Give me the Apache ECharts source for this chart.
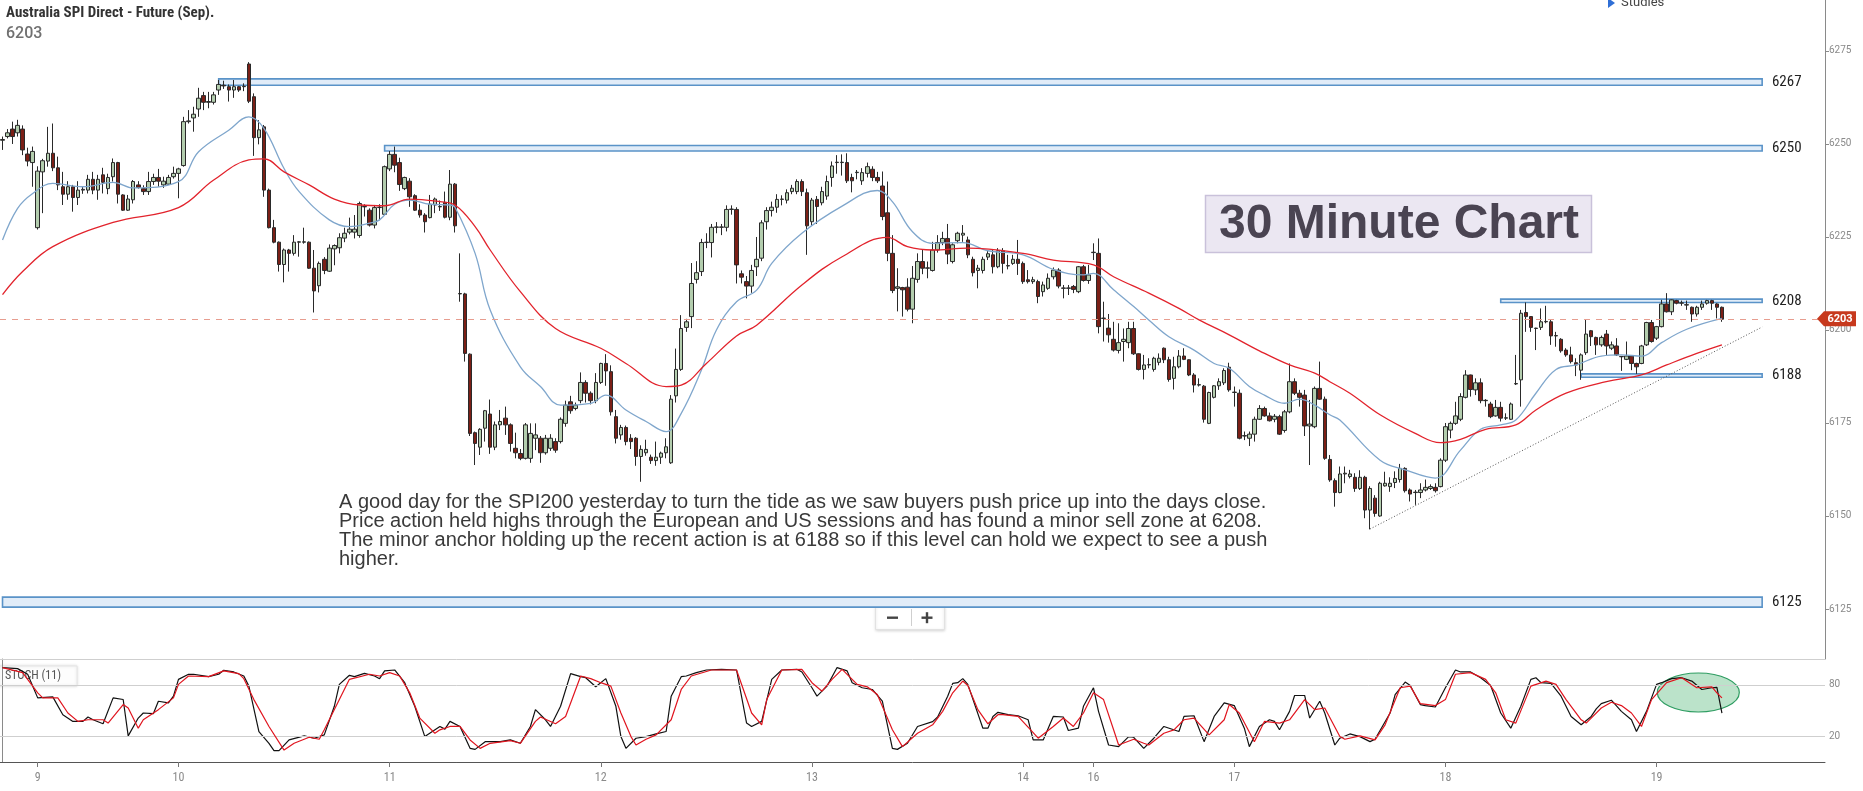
<!DOCTYPE html>
<html>
<head>
<meta charset="utf-8">
<script src="https://cdn.jsdelivr.net/npm/echarts@6/dist/echarts.min.js"></script>
<style>
  html, body { margin: 0; padding: 0; background: #fff; }
  #main { width: 1863px; height: 791px; }
</style>
</head>
<body>
<div id="main"></div>
<script>
// 30 minute candles, [open, close, low, high]
var candles = [
  [6251,6251.2,6248.4,6252],[6252,6253,6251.5,6254],[6254,6252,6250,6256],[6253,6255,6252,6256.5],
  [6254,6248.4,6247,6255],[6247.3,6245.4,6244,6249],[6245,6248,6238.5,6249.3],[6227.5,6242.7,6227,6244],
  [6242.5,6245.5,6231.4,6246],[6245.4,6247.5,6243.9,6254.6],[6247.5,6243.6,6242.7,6255.5],[6243.6,6239,6237.6,6246.6],
  [6238.5,6236.5,6233.6,6242.5],[6236.5,6238.5,6235,6240],[6238.5,6235.6,6231.8,6239],[6235.6,6237.6,6233.6,6240],
  [6237.6,6237.8,6236.6,6238.6],[6237.6,6240.5,6236.7,6241.7],[6240.5,6237.6,6236.5,6242.5],[6237.6,6240.5,6235,6241.7],
  [6241.7,6239.7,6236.7,6243.6],[6238,6241,6236.5,6242],[6241.2,6245,6239.9,6246.1],[6245,6236.5,6234,6245.2],
  [6236.3,6232.2,6232,6236.5],[6232.2,6235.2,6232,6236.3],[6235,6239.9,6234,6240.3],[6239,6238.3,6238,6240],
  [6238,6237.2,6236.3,6238.9],[6237.2,6239.9,6236.3,6242.5],[6239.9,6241,6239,6242],[6241,6240,6238.5,6243.3],
  [6239,6240,6238.2,6241.2],[6239.2,6241,6239,6241.7],[6241.2,6242.1,6240.7,6243.9],[6242.1,6243.3,6235.4,6243.6],
  [6244.2,6256,6243.9,6257.3],[6256,6256.2,6255.5,6259.1],[6257,6258,6253.3,6260],[6259.4,6262.3,6257.3,6265.1],
  [6263,6261.2,6259.1,6264],[6261.2,6261.4,6259.6,6264],[6261.2,6263.2,6260.6,6264],[6264.5,6266,6263.2,6267.2],
  [6265.8,6265.6,6264.8,6267],[6265.4,6264.5,6261.4,6266],[6264.5,6265.4,6262.4,6267.2],[6265.4,6264.5,6264,6265.6],
  [6265.4,6265.5,6264.2,6266.3],[6271.5,6261.5,6261,6272],[6262.7,6251.7,6246.8,6263.6],[6251.7,6253.8,6249.9,6256.4],
  [6254.6,6237.6,6235.8,6255.1],[6237.6,6227.5,6227.3,6238],[6227.5,6223.6,6223.3,6229.6],[6223.6,6217.6,6215.7,6223.8],
  [6217.6,6221.5,6212.8,6221.9],[6221.5,6220.6,6215.7,6221.8],[6220.6,6223.6,6220,6225.5],[6223.6,6223.7,6219.7,6223.9],
  [6223.6,6223.7,6223.2,6227.5],[6223.6,6216.6,6216.4,6223.8],[6216.6,6210.5,6204.7,6221.5],[6211.9,6217.9,6210.1,6218.4],
  [6219,6216,6215,6219.6],[6215.8,6222,6215.6,6223],[6221.8,6222.7,6217.4,6223],[6222.1,6224.8,6220.6,6226],
  [6224.7,6226,6223.6,6227.5],[6226.3,6227.1,6225.7,6230.2],[6226.3,6227.1,6224.6,6230.9],[6225.4,6234,6224.8,6234.5],
  [6233.1,6233.2,6230.5,6233.8],[6232.2,6228.2,6227.8,6232.7],[6228.2,6232.9,6227.3,6233.6],[6232.9,6233,6229.5,6233.8],
  [6231.1,6243.9,6230.9,6244.2],[6243.3,6247.2,6242.7,6248.1],[6247.2,6244.3,6242.4,6249.3],[6245,6239.1,6237.4,6246.3],
  [6238,6241,6237.6,6241.2],[6240,6235.8,6233.1,6240.8],[6236.1,6232.2,6232,6236.5],[6232.2,6230.9,6230.2,6233.8],
  [6230.9,6229.1,6226.2,6231.4],[6230.2,6233.8,6230,6236.3],[6233.6,6235.2,6231.4,6235.6],[6233.1,6233.2,6232,6234.8],
  [6234.3,6230.3,6230,6237.2],[6230.3,6239.2,6229.5,6243],[6239.2,6228,6226.2,6239.5],[6209.7,6209.8,6207.6,6220.6],
  [6209.7,6193.7,6191.5,6210],[6193.5,6172.2,6171.5,6193.7],[6172.4,6169.5,6163.7,6172.7],[6168.5,6173.3,6166.4,6173.6],
  [6173.6,6178.3,6170,6178.5],[6177.4,6168.5,6166.7,6181.3],[6168.5,6174.5,6167.7,6175.4],[6174.5,6175.4,6173.1,6178.5],
  [6176.3,6174.5,6171.8,6179.4],[6174.5,6169.5,6167.3,6174.9],[6168.2,6167,6165.5,6172.4],[6166.8,6165.5,6165,6168],
  [6165.5,6174.5,6165.2,6175],[6165.5,6172.2,6164.3,6174.9],[6170.9,6171.8,6167.7,6174.9],[6170.9,6167,6164.3,6171.5],
  [6167,6170.9,6166.5,6171.8],[6168.2,6170.9,6167.5,6172],[6170,6167.7,6167,6170.9],[6170,6176,6169.5,6176.5],
  [6174.9,6179.8,6174,6181],[6180.7,6178.3,6177.5,6182.3],[6178.9,6179.8,6178.4,6180.5],[6181,6185.9,6180.3,6188.6],
  [6185.9,6183,6180.5,6186.5],[6183,6181,6180,6183.5],[6181,6185.9,6180.3,6188.4],[6185.9,6191,6185.5,6191.2],
  [6191,6189,6185,6193.5],[6188.8,6178,6177,6190.5],[6176.7,6170.9,6169.5,6178.5],[6171.8,6173.8,6170.5,6174.5],
  [6173.8,6170,6169,6174.3],[6170.9,6170,6168,6172],[6170.9,6166,6163.5,6171.2],[6166,6167.9,6159.2,6169],
  [6167,6167.9,6166.2,6170.5],[6165.8,6164.9,6164,6166.5],[6164.9,6165.8,6163.5,6170],[6165.8,6166.9,6164,6167.3],
  [6167,6168.6,6165.5,6170.9],[6164.3,6181.4,6164,6182.5],[6182.3,6189.4,6180.5,6195],[6189.4,6200.4,6189,6204],
  [6200.7,6202.2,6199.5,6203],[6203.6,6212.5,6200.5,6218],[6213.6,6215.4,6212.5,6218.5],[6215.7,6223.5,6214.5,6224.5],
  [6223.5,6223.6,6222,6226],[6223.5,6227.6,6219.5,6228.5],[6227.6,6227.7,6226,6229],[6227.6,6227.7,6225.5,6228.5],
  [6227.6,6232.4,6226.5,6233.5],[6232.4,6232.5,6231,6233.5],[6232.4,6217.5,6212.5,6233],[6215.1,6214.2,6212.5,6216],
  [6213,6211.8,6208.5,6214.5],[6211.8,6216,6210,6217.5],[6217,6219,6214.5,6225],[6219.3,6228.8,6218.5,6229.5],
  [6229.1,6232.1,6227,6233],[6232.1,6233,6230.5,6234.5],[6233,6235.1,6231.5,6236.5],[6235.1,6235.2,6233.5,6236.2],
  [6234.9,6236.9,6234,6237.8],[6237.2,6238.1,6236.5,6239],[6237.2,6239.9,6236.5,6240.5],[6239.9,6237.2,6236,6240.5],
  [6236.9,6228,6220.2,6238],[6229.1,6234.9,6228,6235.5],[6235.1,6233.2,6228.5,6236],[6234.2,6237.2,6233.5,6238.5],
  [6236,6239.9,6235,6241.5],[6241,6244.1,6238.5,6245.3],[6245,6245.1,6242,6247],[6245,6245.1,6241.5,6247.2],
  [6245,6240.1,6239.5,6247.5],[6241,6240.1,6237,6242],[6242.3,6242.4,6240.5,6243],[6240.1,6242.3,6239,6243.5],
  [6242.1,6243.9,6241,6245],[6243.2,6241,6240,6244],[6241,6240.1,6239.5,6242.5],[6238.7,6230.5,6229.5,6242.6],
  [6231.5,6220.6,6218.5,6239.9],[6220.6,6210.6,6209.9,6225.5],[6211.2,6211.6,6205,6216.6],[6211.4,6210.8,6203.6,6211.6],
  [6211.5,6205.6,6205,6213.9],[6205.6,6213.9,6201.8,6217.2],[6213.6,6218.4,6212.7,6220.6],[6218.4,6216.6,6215,6221.5],
  [6216.6,6216.7,6213.9,6218.4],[6216,6221.5,6215.7,6223.7],[6221.5,6223.5,6220.8,6225.5],[6223.5,6224.6,6222.8,6226.4],
  [6224.6,6220.4,6217.7,6228.5],[6218.4,6222.9,6217.9,6223.3],[6224,6226,6223.3,6226.4],[6225.5,6226,6223.7,6228.2],
  [6224.2,6220.2,6219.3,6225.1],[6219,6215.4,6214.4,6219.7],[6216,6216.6,6211.2,6217.5],[6216,6219,6215.2,6219.7],
  [6219.6,6220.5,6218.8,6221.5],[6220.2,6217,6215.2,6221.5],[6217,6221.3,6216.6,6222],[6221.3,6217.9,6215.2,6222],
  [6217.2,6217.3,6216.3,6220.2],[6217.9,6219,6217.5,6220.2],[6219,6217.9,6214.8,6224.2],[6217.9,6213,6212.4,6218.4],
  [6213.5,6213,6212.5,6216.1],[6213,6213.5,6212.4,6214.3],[6213,6209,6207.2,6213.5],[6210.3,6212.1,6209,6213],
  [6211.2,6213.9,6210.8,6215.2],[6214.3,6216.1,6213.6,6216.8],[6216.1,6211.8,6211.2,6216.6],[6211.2,6211.3,6208.5,6212.1],
  [6211.2,6211.3,6209.4,6212.1],[6211.7,6210.9,6209.9,6212.1],[6210.3,6217,6209.9,6217.2],[6217,6213.3,6213,6217.5],
  [6213.3,6214.8,6212.4,6217.5],[6220.8,6220.9,6218.8,6223.3],[6220.6,6200.9,6199.1,6224.6],[6203.1,6203.2,6196.9,6207.6],
  [6200.5,6198.7,6196.6,6204.3],[6197.5,6194.6,6194.2,6202.2],[6194.5,6196.6,6193.7,6201.8],[6196.9,6197.5,6191.5,6200.4],
  [6196.6,6200.4,6195.1,6202.2],[6200.4,6193.6,6193.3,6202.2],[6193.6,6189.4,6189.1,6193.7],[6189.4,6190.6,6186.7,6193.3],
  [6190.6,6190.7,6189.7,6192.4],[6189.4,6192.4,6188.8,6192.8],[6191.3,6192.4,6190.5,6193.7],[6195.1,6192,6191.1,6195.3],
  [6192,6186.7,6186.1,6192.8],[6187,6190.1,6184,6192.8],[6190.1,6193,6189.7,6194.6],[6193,6192.1,6191.9,6195.1],
  [6192,6187.9,6187.6,6192.1],[6187.9,6185.2,6183.2,6188.4],[6185.2,6185.3,6184.8,6187],[6184.9,6176,6175.1,6185.2],
  [6174.9,6183.2,6174.7,6183.4],[6181.9,6185,6181.6,6185.2],[6185,6186.1,6183.9,6187],[6185.8,6189.1,6185.2,6189.7],
  [6190,6183.9,6183.4,6191.2],[6183.2,6183.3,6179.4,6184.8],[6183,6170.9,6170.6,6184],[6171.5,6171.6,6170.4,6172.7],
  [6170.9,6172,6168.8,6172.7],[6172,6176,6170,6176.7],[6176,6178.9,6175.8,6179.8],[6178.9,6176.9,6176.7,6179.4],
  [6176.9,6175.6,6175.4,6177.8],[6176,6176.8,6175.2,6177.4],[6176.7,6172,6171.8,6177.2],[6173,6178,6172.4,6178.5],
  [6178,6186.1,6177.6,6191],[6186.1,6183,6182.5,6187],[6183,6181.9,6179.4,6183.9],[6182.5,6174.2,6171.5,6183.9],
  [6174.2,6174.7,6163.7,6181.2],[6174,6184.3,6173.6,6184.8],[6184.3,6181.4,6181.2,6191.5],[6181.4,6165.5,6165.1,6182.1],
  [6165.2,6159.7,6159.2,6166.4],[6159.5,6156.3,6152.5,6160.1],[6156.3,6161.3,6156.1,6163.3],[6161.3,6161.5,6158.8,6163.3],
  [6160.6,6161.3,6160.1,6162.4],[6160.4,6157.4,6156.5,6161.5],[6157.4,6160.4,6157,6162.3],[6160.4,6151.6,6149.4,6160.8],
  [6151.6,6157.4,6146.4,6158],[6154.8,6150.7,6149.8,6155.6],[6150,6158.8,6149.8,6159.2],[6158.1,6158.8,6157.9,6161.9],
  [6157.9,6158.8,6156.5,6160.4],[6159,6160.1,6157.5,6162],[6159.8,6162.8,6159,6164],[6162.8,6156.8,6156.3,6163.1],
  [6157,6155.9,6153.9,6157.4],[6156.3,6156.4,6153,6157],[6156.3,6157,6154.8,6158.8],[6157,6157.7,6156.6,6159.8],
  [6157.4,6157.9,6157,6158.5],[6157.7,6156.8,6156.3,6158.8],[6157.9,6165,6157.7,6165.5],[6165,6174,6164.5,6175],
  [6173.1,6174.9,6170.9,6175.4],[6174.9,6176.9,6174.5,6180.7],[6176,6182.1,6175.5,6183],[6181.9,6187.9,6181.6,6189.2],
  [6187.9,6184,6182.1,6188],[6183.9,6185.8,6182.5,6187],[6185.8,6181,6180.3,6187],[6181,6181.1,6179.4,6181.4],
  [6180.1,6176.7,6176.3,6180.7],[6176.9,6179.2,6176.7,6181.2],[6179.2,6176.3,6175.4,6180.7],[6176.3,6176.4,6175.8,6177.6],
  [6176,6180.1,6175.8,6180.5],[6185.5,6185.6,6185.2,6193.3],[6186.6,6204.5,6179.4,6205.4],[6204.7,6203.6,6199.5,6207.4],
  [6203.6,6200.7,6199.5,6203.7],[6200.4,6200.5,6194.6,6200.6],[6200.7,6202.2,6200,6205.8],[6202.2,6202.3,6201.8,6206.5],
  [6202.2,6198.4,6196,6202.7],[6198.4,6198.5,6195.5,6199.5],[6197.5,6194.4,6193.9,6197.8],[6194.6,6193.3,6192.8,6195.1],
  [6193.3,6191.5,6191,6195.5],[6191.2,6190.6,6187.6,6192.4],[6189.2,6193.3,6186.6,6193.7],[6193.9,6198.9,6193.3,6202.9],
  [6199.8,6198.2,6195.7,6200],[6198,6196,6193.3,6198.2],[6196,6198,6195.5,6198.5],[6198.9,6195.7,6193.3,6200],
  [6195.1,6196,6194.6,6196.9],[6195.7,6193.3,6193,6197.8],[6192.8,6192.9,6189,6193],[6192.1,6193,6191.9,6196.9],
  [6193,6191,6189.2,6193.1],[6191,6190.1,6188.2,6191.2],[6191,6195.7,6190.8,6196],[6196,6202,6195.7,6202.2],
  [6202,6196.9,6196.6,6202.7],[6197.8,6200.9,6197.3,6201.1],[6200.9,6207,6200.7,6208.1],[6207,6204.9,6204.7,6209.9],
  [6204.9,6208.1,6204,6208.2],[6207.9,6207.2,6206.9,6208.1],[6207.2,6207.3,6206.5,6207.9],[6206.7,6206.8,6205.4,6207.9],
  [6206.1,6204.3,6202.2,6206.3],[6204.3,6206.1,6203.6,6206.5],[6206.1,6207,6205.4,6207.9],[6207.2,6207.9,6206.8,6208.1],
  [6207.9,6207.2,6205.4,6208.1],[6207,6206.1,6203.1,6207.2],[6206.1,6202.9,6202.2,6206.3]
];

var slotCount = 363;               // category slots on the time axis (blank ones to the right)
var dayIndex = [7, 35, 77, 119, 161, 203, 217, 245, 287, 329];
var dayLabels = ['9', '10', '11', '12', '13', '14', '16', '17', '18', '19'];
var priceTicks = [6125, 6150, 6175, 6200, 6225, 6250, 6275];
var stochTicks = [20, 80];
var lastPrice = 6203;

// horizontal zones: level label, start slot, top, bottom
var bandLevels = [6267, 6250, 6208, 6188, 6125];
var bandStart = [43, 76, 298, 314, 0];
var bandTop = [6267.5, 6249.6, 6208.3, 6188.2, 6128.2];
var bandBottom = [6265.8, 6248.1, 6207.4, 6187.3, 6125.5];
var bandEnd = 350;

// moving averages, [slot, value]
var blueMA = [[0,6224.2],[3,6232.7],[6,6236.7],[10,6239.4],[16,6238.5],[22,6239.7],[26,6238.2],[35,6239.9],
  [39,6247.9],[45,6253.7],[49,6257.3],[52,6254.2],[56,6243.4],[59,6237.2],[65,6229.6],[69,6227.8],[73,6228.7],
  [75,6229.6],[78,6233.8],[81,6234.9],[85,6233.8],[89,6233.6],[90,6233],[94,6220.6],[97,6205.4],[103,6190.1],
  [107,6184.8],[111,6179.8],[117,6180.3],[120,6182.5],[124,6178.5],[128,6175.4],[132,6172.7],[135,6177.6],
  [139,6189.2],[142,6200],[146,6207.6],[150,6210.7],[153,6217.9],[159,6226],[167,6233.3],[174,6237.5],
  [177,6234.5],[181,6226.4],[185,6223.3],[191,6223.5],[196,6221.3],[203,6220.2],[209,6216.3],[215,6214.8],
  [217,6215.2],[221,6210.8],[225,6206.3],[228,6202.7],[232,6198.2],[237,6194.6],[241,6191],[244,6189.7],
  [248,6184.8],[251,6182.5],[255,6180.3],[258,6181.4],[261,6179.8],[264,6177.2],[266,6175.8],[274,6165],
  [279,6162.4],[285,6160.2],[290,6167.7],[294,6173.3],[298,6174.5],[301,6175.8],[305,6183],[309,6189.4],
  [313,6190.6],[318,6193],[322,6193.3],[326,6193],[330,6196.6],[335,6200.2],[342,6203.1]];
var redMA = [[0,6209.5],[4,6215.7],[10,6222.4],[22,6228.9],[35,6232.9],[42,6240.3],[49,6245.7],[52,6246],
  [56,6242.5],[61,6239],[66,6235.2],[71,6233.6],[76,6233.4],[81,6235.2],[87,6234.5],[90,6233.6],[94,6227.8],
  [97,6221.5],[103,6210.3],[110,6200.4],[119,6195.1],[124,6191],[132,6184.8],[135,6185.2],[140,6191],
  [146,6198.4],[150,6201.3],[159,6212.1],[167,6219.7],[176,6224.9],[180,6222.4],[185,6221.5],[192,6222],
  [203,6220.6],[209,6218.8],[217,6217.5],[221,6214.3],[228,6209.9],[234,6205.8],[238,6202.7],[244,6198.7],
  [250,6194.4],[256,6190.6],[261,6188.4],[264,6186.1],[268,6183],[274,6177.2],[281,6172.2],[286,6169.7],
  [290,6170.6],[295,6173.3],[301,6174.5],[305,6178.5],[311,6183],[319,6186.1],[326,6187.9],[331,6190.6],
  [337,6193.7],[342,6196]];
var trendLine = [[272, 6146.5], [350, 6200.8]];

// stochastic (11): %K black, %D red
var stochK = [[0,100],[3,98.8],[5,92.2],[7,64.7],[10,65.9],[12,45.1],[14,37.3],[16,37.3],[17,42.4],[18,39.2],
  [20,34.5],[22,64.7],[24,62.8],[25,20.4],[27,41.2],[28,47.1],[30,46.3],[31,60.8],[33,58.8],[34,66.7],[35,86.3],
  [37,92.2],[38,92.2],[41,89.4],[43,92.2],[44,96.9],[46,94.9],[48,90.2],[49,78.4],[51,25.5],[53,11.8],[54,3.2],
  [55,3.2],[57,15.7],[60,20.4],[62,17.7],[64,21.6],[66,54.9],[67,80.4],[69,91],[70,89.4],[72,93.3],[74,90.2],
  [75,87.1],[76,96.1],[78,97.2],[80,82.4],[82,54.9],[84,19.6],[87,31.4],[88,28.3],[89,37.3],[91,31.4],[93,5.9],
  [94,4.7],[96,13.7],[99,13.7],[101,15.7],[103,11.8],[105,31.4],[106,51],[108,39.2],[109,31.4],[111,54.9],
  [113,92.9],[115,89.4],[116,88.2],[118,77.6],[120,87.1],[122,54.9],[123,19.6],[124,5.9],[126,17.7],[128,19.6],
  [130,22.7],[132,25.5],[133,66.7],[135,89.4],[136,90.2],[138,94.1],[140,97.2],[143,98],[146,97.2],[148,35.3],
  [149,31.4],[151,37.3],[153,86.3],[155,97.2],[158,98],[159,94.9],[161,76.5],[162,66.7],[164,78.4],[166,100],
  [168,96.1],[169,82.4],[171,76.5],[173,74.5],[175,60.8],[177,5.9],[178,4.7],[180,11.8],[182,31.4],[185,37],
  [186,42.4],[188,66.7],[189,81.6],[190,82.4],[191,87.1],[192,80.4],[195,29.4],[196,29.4],[197,43.1],[198,47.9],
  [200,45.1],[202,43.9],[204,39.2],[205,15.7],[207,15.7],[209,43.1],[211,42.4],[212,26.7],[214,29.4],[215,54.9],
  [217,76.5],[218,49],[220,9.8],[222,7.9],[224,19.6],[225,18.8],[227,5.9],[229,17.7],[231,31.4],[234,25.5],
  [235,43.1],[237,43.9],[239,13.7],[241,43.1],[243,58.8],[245,55.7],[247,29.4],[248,7.9],[250,31.4],[252,39.2],
  [253,37.3],[254,27.5],[256,49],[257,67.5],[259,67.5],[260,41.2],[262,60.8],[263,47.1],[265,9.8],[266,17.7],
  [268,22.7],[270,19.6],[272,13.7],[273,16.5],[276,47.1],[277,68.6],[279,83.1],[280,79.2],[282,56.9],[283,55.7],
  [285,54.1],[287,76.5],[289,97.2],[290,94.9],[292,94.9],[294,88.2],[296,79.2],[298,47.1],[300,29.4],[302,54.9],
  [304,86.3],[305,88.2],[306,82.4],[308,81.6],[310,66.7],[312,43.1],[314,33.3],[316,43.1],[317,51.8],[318,58],
  [320,62],[322,49],[324,39.2],[325,25.5],[327,49],[329,80.4],[330,82.4],[332,87.1],[334,88.2],[336,84.3],
  [338,74.5],[340,76.5],[341,77],[342,47]];
var stochD = [[0,100],[4,94.1],[7,70.6],[8,64.7],[11,64.7],[13,47.1],[15,37.3],[17,39.2],[20,39.2],[21,35.3],
  [24,56.9],[25,52.9],[27,29.4],[28,39.2],[31,51],[34,64.7],[35,80.4],[37,90.2],[41,89.4],[44,96.1],[47,92.9],
  [48,87.1],[50,62.7],[53,31.4],[56,3.9],[58,11.8],[61,18.8],[63,16.5],[64,27.5],[67,62.7],[69,86.3],[73,92.2],
  [75,90.2],[77,94.1],[79,90.2],[81,70.6],[83,41.2],[86,23.5],[87,27.5],[89,31.4],[91,31.4],[93,15.7],[95,5.9],
  [97,11.8],[101,14.9],[103,11.8],[106,37.3],[107,42.4],[110,34.5],[112,43.1],[115,90.2],[117,87.1],[119,82.4],
  [121,78.4],[123,47.1],[125,19.6],[126,9.8],[128,16.5],[130,21.6],[133,39.2],[135,74.5],[137,90.2],[141,97.2],
  [146,97.2],[149,47.1],[151,33.3],[152,62.7],[155,97.2],[159,98],[161,82.4],[163,72.5],[165,86.3],[167,98],
  [170,80.4],[172,77.6],[174,68.6],[177,27.5],[179,7.9],[182,23.5],[185,33.3],[187,49],[189,70.6],[191,84.3],
  [192,79.2],[194,51],[196,34.5],[198,45.1],[199,45.1],[202,43.1],[205,24.3],[206,17.7],[209,31.4],[211,41.2],
  [213,31.4],[215,47.1],[217,70.6],[219,62.7],[221,27.5],[222,9.8],[225,16.5],[227,11.8],[228,9.8],[231,23.5],
  [233,27.5],[235,39.2],[237,41.2],[240,21.6],[243,39.2],[244,56.9],[246,47.1],[249,13.7],[251,37.3],[254,35.3],
  [256,39.2],[259,62.7],[261,51],[263,52.9],[266,19.6],[267,16.5],[270,20.4],[273,15.7],[275,33.3],[278,76.5],
  [280,78.4],[282,58],[285,55.7],[287,62.7],[289,92.2],[292,94.1],[295,86.3],[297,70.6],[299,39.2],[301,35.3],
  [304,78.4],[307,84.3],[309,80.4],[311,62.7],[314,39.2],[315,35.3],[318,52.9],[320,59.6],[322,55.7],[324,47.1],
  [326,31.4],[328,62.7],[331,82.4],[334,88.2],[337,76.5],[340,77.6],[341,70.6],[342,64.7]];
var stochCircle = [337.3, 71];     // centre of the highlighted area

var slots = [];
for (var i = 0; i < slotCount; i++) slots.push(String(i));

var narrow = '"Liberation Sans Narrow", "Roboto Condensed", "DejaVu Sans Condensed", sans-serif';
var plain = function (v) { return String(v); };

var bandAreas = bandLevels.map(function (lv, k) {
  return [
    { name: String(lv), xAxis: bandStart[k], yAxis: bandTop[k] },
    { xAxis: bandEnd, yAxis: bandBottom[k] }
  ];
});

var chart = echarts.init(document.getElementById('main'));

var option = {
  animation: false,
  backgroundColor: '#fff',
  textStyle: { fontFamily: 'Roboto, sans-serif' },
  grid: [
    { left: 0, top: 0, width: 1825, height: 659 },
    { left: 0, top: 659, width: 1825, height: 103 }
  ],
  xAxis: [
    {
      type: 'category', gridIndex: 0, data: slots, boundaryGap: true,
      axisLine: { show: false }, axisTick: { show: false }, axisLabel: { show: false }, splitLine: { show: false }
    },
    {
      type: 'value', gridIndex: 1, min: -0.5, max: slotCount - 0.5,
      axisLine: { show: true, onZero: false, lineStyle: { color: '#555', width: 1 } },
      axisTick: { show: true, length: 5, customValues: dayIndex, lineStyle: { color: '#777' } },
      axisLabel: {
        customValues: dayIndex, color: '#8a8a8a', fontSize: 12, margin: 10, fontFamily: narrow,
        formatter: function (v) { var k = dayIndex.indexOf(Math.round(v)); return k >= 0 ? dayLabels[k] : ''; }
      },
      splitLine: { show: false }
    }
  ],
  yAxis: [
    {
      type: 'value', gridIndex: 0, position: 'right', min: 6111.56, max: 6288.7, scale: true,
      axisLine: { show: true, lineStyle: { color: '#8a8a8a' } },
      axisTick: { show: true, length: 4, customValues: priceTicks, lineStyle: { color: '#8a8a8a' } },
      axisLabel: { customValues: priceTicks, color: '#8a8a8a', fontSize: 10, margin: 4, formatter: plain },
      splitLine: { show: false }
    },
    {
      type: 'value', gridIndex: 1, position: 'right', min: -10, max: 110,
      axisLine: { show: true, lineStyle: { color: '#8a8a8a' } },
      axisTick: { show: true, length: 4, customValues: stochTicks, lineStyle: { color: '#8a8a8a' } },
      axisLabel: { customValues: stochTicks, color: '#8a8a8a', fontSize: 10, margin: 4, formatter: plain },
      splitLine: { show: false }
    }
  ],
  series: [
    {
      name: 'SPI', type: 'candlestick', xAxisIndex: 0, yAxisIndex: 0,
      data: candles, barWidth: 4,
      itemStyle: {
        color: '#b3cdae', color0: '#7b1f16',
        borderColor: '#2a2a2a', borderColor0: '#2a2a2a', borderWidth: 1
      },
      markArea: {
        silent: true,
        itemStyle: { color: '#e1ecf8', borderColor: '#5a93c8', borderWidth: 1.6 },
        label: {
          show: true, position: 'right', distance: 9, color: '#222', fontSize: 15, fontFamily: narrow
        },
        data: bandAreas
      },
      markLine: {
        silent: true, symbol: 'none',
        lineStyle: { color: '#e79d8f', type: [6, 6], width: 1.2 },
        label: { show: false },
        data: [{ yAxis: lastPrice }]
      }
    },
    {
      name: 'MA fast', type: 'line', xAxisIndex: 0, yAxisIndex: 0, data: blueMA,
      smooth: 0.4, symbol: 'none', lineStyle: { color: '#7fa6cc', width: 1.3 }
    },
    {
      name: 'MA slow', type: 'line', xAxisIndex: 0, yAxisIndex: 0, data: redMA,
      smooth: 0.4, symbol: 'none', lineStyle: { color: '#e2232c', width: 1.3 }
    },
    {
      name: 'trend', type: 'line', xAxisIndex: 0, yAxisIndex: 0, data: trendLine,
      symbol: 'none', lineStyle: { color: '#555', width: 1, type: [1, 2] }
    },
    {
      name: '%K', type: 'line', xAxisIndex: 1, yAxisIndex: 1, data: stochK,
      symbol: 'none', lineStyle: { color: '#111', width: 1.2 }, z: 4
    },
    {
      name: '%D', type: 'line', xAxisIndex: 1, yAxisIndex: 1, data: stochD,
      symbol: 'none', lineStyle: { color: '#e0141e', width: 1.2 }, z: 5,
      markLine: {
        silent: true, symbol: 'none', label: { show: false },
        lineStyle: { color: '#cfcfcf', type: 'solid', width: 1 },
        data: [{ yAxis: 20 }, { yAxis: 80 }, { yAxis: 110 }]
      }
    }
  ]
};
chart.setOption(option);

// annotations and the price tag, placed after the axes exist
var tagY = chart.convertToPixel({ yAxisIndex: 0 }, lastPrice);
var circ = chart.convertToPixel({ xAxisIndex: 1, yAxisIndex: 1 }, stochCircle);

chart.setOption({
  graphic: [
    { type: 'text', left: 6, top: 6, style: { text: 'Australia SPI Direct - Future (Sep).', fill: '#333', font: 'bold 15px ' + narrow } },
    { type: 'text', left: 6, top: 26, style: { text: '6203', fill: '#707070', font: '500 16px Roboto, sans-serif' } },
    { type: 'polygon', shape: { points: [[1608, -2], [1615, 3], [1608, 8]] }, style: { fill: '#2f6fd6' } },
    { type: 'text', x: 1621, y: 3, style: { text: 'Studies', fill: '#444', font: '13px Roboto, sans-serif', verticalAlign: 'middle' } },
    {
      type: 'rect', shape: { x: 1205.5, y: 195.5, width: 386, height: 57 },
      style: { fill: '#ebe7f2', stroke: '#c9c1da', lineWidth: 1.5 }
    },
    {
      type: 'text', x: 1399, y: 225,
      style: { text: '30 Minute Chart', fill: '#4a4452', font: 'bold 48px "Liberation Sans", Arial, sans-serif', align: 'center', verticalAlign: 'middle' }
    },
    {
      type: 'text', x: 339, y: 492.5,
      style: {
        text: 'A good day for the SPI200 yesterday to turn the tide as we saw buyers push price up into the days close.\n' +
          'Price action held highs through the European and US sessions and has found a minor sell zone at 6208.\n' +
          'The minor anchor holding up the recent action is at 6188 so if this level can hold we expect to see a push\n' +
          'higher.',
        fill: '#3a3a3a', font: '20px "Liberation Sans", Arial, sans-serif', lineHeight: 19, verticalAlign: 'top'
      }
    },
    {
      type: 'rect', shape: { x: 875.5, y: 605.5, width: 69, height: 24 },
      style: { fill: '#fff', stroke: '#e2e2e2', lineWidth: 1, shadowBlur: 3, shadowColor: 'rgba(0,0,0,0.15)', shadowOffsetY: 1 }
    },
    { type: 'rect', shape: { x: 887, y: 616.5, width: 11, height: 2.4 }, style: { fill: '#444' } },
    { type: 'line', shape: { x1: 911.5, y1: 609, x2: 911.5, y2: 626 }, style: { stroke: '#cfcfcf', lineWidth: 1 } },
    { type: 'rect', shape: { x: 921.5, y: 616.5, width: 11, height: 2.4 }, style: { fill: '#444' } },
    { type: 'rect', shape: { x: 925.8, y: 612.2, width: 2.4, height: 11 }, style: { fill: '#444' } },
    {
      type: 'rect', shape: { x: -1, y: 666, width: 78, height: 20 },
      style: { fill: 'rgba(255,255,255,0.9)', stroke: '#e4e4e4', lineWidth: 1, shadowBlur: 3, shadowColor: 'rgba(0,0,0,0.12)' }
    },
    { type: 'text', x: 5, y: 676, style: { text: 'STOCH (11)', fill: '#555', font: '12px ' + narrow, verticalAlign: 'middle' } },
    {
      type: 'ellipse', shape: { cx: circ[0], cy: circ[1], rx: 41, ry: 19.5 },
      style: { fill: 'rgba(120,200,150,0.5)', stroke: '#2f9d62', lineWidth: 1.2 }, z: 1
    },
    {
      type: 'polygon', shape: { points: [[1817, tagY], [1824, tagY - 7.5], [1856, tagY - 7.5], [1856, tagY + 7.5], [1824, tagY + 7.5]] },
      style: { fill: '#c7391d' }, z: 10
    },
    {
      type: 'text', x: 1840, y: tagY, z: 11,
      style: { text: String(lastPrice), fill: '#fff', font: 'bold 11px Roboto, sans-serif', align: 'center', verticalAlign: 'middle' }
    }
  ]
});
</script>
</body>
</html>
